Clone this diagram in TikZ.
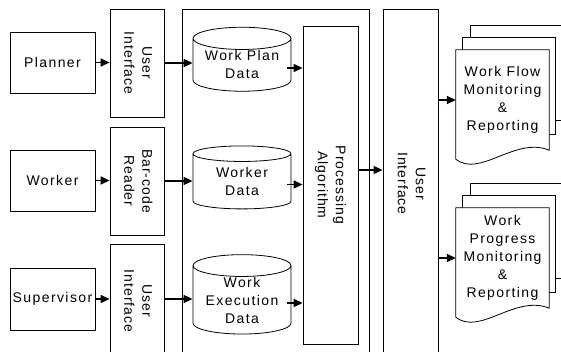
\documentclass[tikz,border=0pt]{standalone}
\usepackage{fontspec}
\setmainfont{Liberation Sans}
\newfontfamily\spaced{Liberation Sans}[LetterSpace=10]
\newfontfamily\vspaced{Liberation Sans}[LetterSpace=7]
\usepackage{graphicx}
\usetikzlibrary{positioning,arrows.meta,calc,shapes.geometric}
\newcommand{\vlbl}[1]{\rotatebox{-90}{\vspaced\begin{tabular}{@{}c@{}}#1\end{tabular}}}
\newcommand{\docstack}[1]{%
  \draw[page] (#1.south east) -- (#1.north east) -- (#1.north west) -- ([yshift=-9pt]#1.south west)
    .. controls ([xshift=24pt,yshift=-28pt]#1.south west) and ([xshift=-34pt,yshift=14pt]#1.south east) .. (#1.south east) -- cycle;
  \draw[page] ([xshift=7pt]#1.north west) |- ([xshift=6pt,yshift=12pt]#1.north east) |- ([yshift=16pt]#1.south east);
  \draw[page] ([xshift=15pt,yshift=12pt]#1.north west) |- ([xshift=14pt,yshift=24pt]#1.north east) |- ([xshift=6pt,yshift=30pt]#1.south east);
}
\tikzset{
  box/.style={draw, line width=0.8pt, inner sep=0pt, font=\spaced\fontsize{14}{18}\selectfont, align=center},
  actor/.style={box, minimum width=85pt, minimum height=61pt},
  iface/.style={box, minimum width=54pt, minimum height=108pt},
  tall/.style={box, minimum width=55pt, minimum height=349pt},
  store/.style={box, cylinder, shape border rotate=90, aspect=0.3, minimum width=98pt, minimum height=64pt},
  doc/.style={inner sep=0pt, font=\spaced\fontsize{14}{18}\selectfont, align=center, minimum width=93pt, minimum height=100pt},
  page/.style={line width=0.8pt},
  flow/.style={-{Triangle[length=9pt,width=8pt]}, line width=1.5pt}
}
\begin{document}
\begin{tikzpicture}[x=1pt,y=1pt]
\useasboundingbox (0,0) rectangle (561,352);
% system frame
\node[box, minimum width=187pt, minimum height=349pt] (core) at (275.5,168.5) {};
% users and their front ends
\node[actor] (plan) at (52.5,289.5) {Planner};
\node[actor] (work) at (52.5,171.5) {Worker};
\node[actor, minimum height=62pt] (sup) at (52.5,53) {Supervisor};
\node[iface] (ui1) at (137,289) {\vlbl{User\\Interface}};
\node[iface] (bc) at (137,171) {\vlbl{Bar-code\\Reader}};
\node[iface, minimum height=114pt] (ui3) at (137,51) {\vlbl{User\\Interface}};
% data stores
\node[store] (wp) at (242,287) {Work Plan\\Data};
\node[store, minimum height=63pt] (wd) at (242,170.5) {Worker\\Data};
\node[store, minimum height=66pt] (we) at (242,52) {Work\\Execution\\Data};
\node[tall, minimum height=318pt] (proc) at (330.5,167) {\vlbl{Processing\\Algorithm}};
\node[tall] (uir) at (410.5,168.5) {\vlbl{User\\Interface}};
% reports
\node[doc] (wf) at (502.5,252) {Work Flow\\Monitoring\\\&\\Reporting};
\node[doc] (wpr) at (502.5,94) {Work\\Progress\\Monitoring\\\&\\Reporting};
\docstack{wf}
\docstack{wpr}
% flows
\draw[flow] (plan.east) -- (plan.east -| ui1.west);
\draw[flow] (ui1.east) -- (ui1.east -| wp.west);
\draw[flow] (work.east) -- (work.east -| bc.west);
\draw[flow] (bc.east) -- (bc.east -| wd.west);
\draw[flow] (sup.east) -- (sup.east -| ui3.west);
\draw[flow] (sup.east -| ui3.east) -- (sup.east -| we.west);
\foreach \s in {wp,wd,we}
  \draw[flow] ([xshift=-4pt,yshift=-3pt]\s.east) -- ([yshift=-3pt]\s.east -| proc.west);
\draw[flow] ([yshift=15pt]proc.east) -- ([yshift=15pt]proc.east -| uir.west);
\draw[flow] (wf.west -| uir.east) -- (wf.west);
\draw[flow] (wpr.west -| uir.east) -- (wpr.west);
\end{tikzpicture}
\end{document}
